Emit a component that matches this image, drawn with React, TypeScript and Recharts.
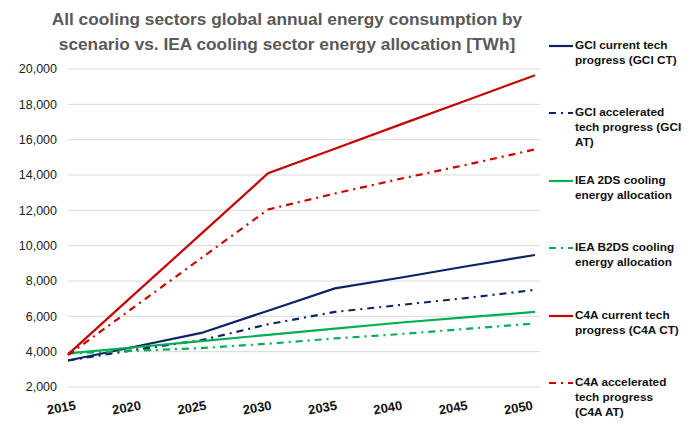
import React from 'react';
import { LineChart, Line, XAxis, YAxis, CartesianGrid } from 'recharts';

const years = [2015, 2020, 2025, 2030, 2035, 2040, 2045, 2050];
const gciCT = [3500, 4280, 5060, 6320, 7580, 8200, 8850, 9470];
const gciAT = [3500, 4100, 4650, 5550, 6250, 6650, 7050, 7500];
const iea2DS = [3900, 4250, 4600, 4950, 5300, 5650, 5950, 6250];
const ieaB2DS = [3900, 4050, 4200, 4450, 4750, 5000, 5300, 5600];
const c4aCT = [3850, 7270, 10680, 14100, 15490, 16880, 18260, 19650];
const c4aAT = [3800, 6550, 9300, 12050, 12950, 13800, 14600, 15450];
const yTicks = [2000, 4000, 6000, 8000, 10000, 12000, 14000, 16000, 18000, 20000];

const data = years.map((y, i) => ({
  year: y,
  gciCT: gciCT[i],
  gciAT: gciAT[i],
  iea2DS: iea2DS[i],
  ieaB2DS: ieaB2DS[i],
  c4aCT: c4aCT[i],
  c4aAT: c4aAT[i],
}));

const NAVY = '#0b2466';
const GREEN = '#00b050';
const RED = '#c80000';
const DASH = '7 5 2 5';

const series = [
  { key: 'gciCT', color: NAVY, dash: undefined, label: ['GCI current tech', 'progress (GCI CT)'], top: 38 },
  { key: 'gciAT', color: NAVY, dash: DASH, label: ['GCI accelerated', 'tech progress (GCI', 'AT)'], top: 105 },
  { key: 'iea2DS', color: GREEN, dash: undefined, label: ['IEA 2DS cooling', 'energy allocation'], top: 173 },
  { key: 'ieaB2DS', color: GREEN, dash: DASH, label: ['IEA B2DS cooling', 'energy allocation'], top: 240 },
  { key: 'c4aCT', color: RED, dash: undefined, label: ['C4A current tech', 'progress (C4A CT)'], top: 308 },
  { key: 'c4aAT', color: RED, dash: DASH, label: ['C4A accelerated', 'tech progress', '(C4A AT)'], top: 375 },
];

const XTick = (props: any) => {
  const { x, y, payload, index } = props;
  const dx = -6 - index * 1.4;
  return (
    <g transform={`translate(${x + dx},${y + 17})`}>
      <text
        x={0}
        y={0}
        textAnchor="middle"
        transform="rotate(-10)"
        fontFamily="Liberation Sans, Arial, sans-serif"
        fontWeight="bold"
        fontSize={13}
        fill="#111"
      >
        {payload.value}
      </text>
    </g>
  );
};

export default function App() {
  return (
    <div style={{ position: 'absolute', left: 0, top: 0, width: 693, height: 423, background: '#fff', fontFamily: 'Liberation Sans, Arial, sans-serif' }}>
      <div
        style={{
          position: 'absolute',
          left: 20,
          top: 7,
          width: 534,
          textAlign: 'center',
          fontWeight: 'bold',
          fontSize: 17.3,
          lineHeight: '25px',
          color: '#595959',
        }}
      >
        All cooling sectors global annual energy consumption by
        <br />
        scenario vs. IEA cooling sector energy allocation [TWh]
      </div>
      <LineChart
        width={693}
        height={423}
        data={data}
        margin={{ top: 69, right: 153, bottom: 0, left: 0 }}
      >
        <CartesianGrid horizontal={true} vertical={false} stroke="#d9d9d9" strokeWidth={1} />
        <XAxis
          dataKey="year"
          type="number"
          domain={[2015, 2050]}
          ticks={years}
          axisLine={false}
          tickLine={false}
          height={36}
          padding={{ left: 0, right: 5 }}
          tick={<XTick />}
          interval={0}
        />
        <YAxis
          domain={[2000, 20000]}
          ticks={yTicks}
          axisLine={false}
          tickLine={false}
          tickSize={0}
          tickMargin={11}
          width={68}
          tick={{ fontSize: 12.5, fill: '#222', fontFamily: 'Liberation Sans, Arial, sans-serif' }}
          tickFormatter={(v: number) => v.toLocaleString('en-US')}
        />
        {series.map((s) => (
          <Line
            key={s.key}
            dataKey={s.key}
            stroke={s.color}
            strokeWidth={2.2}
            strokeDasharray={s.dash}
            dot={false}
            activeDot={false}
            type="linear"
            isAnimationActive={false}
          />
        ))}
      </LineChart>
      {series.map((s) => (
        <div key={s.key} style={{ position: 'absolute', left: 549, top: s.top }}>
          <svg width={24} height={10} style={{ position: 'absolute', left: 0, top: 3 }}>
            <line x1={0} y1={5} x2={24} y2={5} stroke={s.color} strokeWidth={2.2} strokeDasharray={s.dash} />
          </svg>
          <div
            style={{
              position: 'absolute',
              left: 26,
              top: 0,
              width: 130,
              fontWeight: 'bold',
              fontSize: 11.8,
              lineHeight: '15px',
              color: '#111',
              whiteSpace: 'nowrap',
            }}
          >
            {s.label.map((l, i) => (
              <div key={i}>{l}</div>
            ))}
          </div>
        </div>
      ))}
    </div>
  );
}
